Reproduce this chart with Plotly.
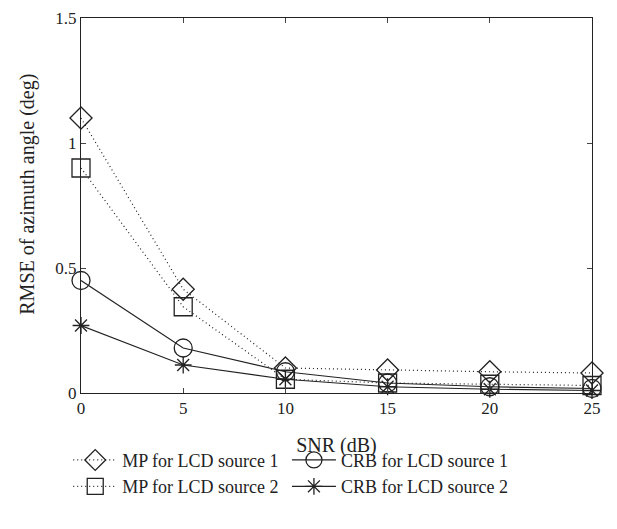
import plotly.graph_objects as go

snr = [0, 5, 10, 15, 20, 25]
mp_src1 = [1.10, 0.415, 0.10, 0.092, 0.085, 0.08]
mp_src2 = [0.90, 0.345, 0.055, 0.04, 0.035, 0.03]
crb_src1 = [0.45, 0.18, 0.085, 0.04, 0.025, 0.018]
crb_src2 = [0.27, 0.112, 0.055, 0.025, 0.015, 0.01]

x_ticks = [0, 5, 10, 15, 20, 25]
y_ticks = [0, 0.5, 1, 1.5]
y_tick_labels = ["0", "0.5", "1", "1.5"]

FONT = "'Liberation Serif', 'Times New Roman', 'DejaVu Serif', serif"
BLACK = "#222222"
DOT = "1px,3px"

fig = go.Figure()
fig.add_trace(go.Scatter(x=snr, y=mp_src1, name="MP for LCD source 1", mode="lines+markers",
                         line=dict(color=BLACK, width=1.2, dash=DOT),
                         marker=dict(symbol="diamond-open", size=17, color=BLACK, line=dict(width=1.3)),
                         cliponaxis=False, legend="legend"))
fig.add_trace(go.Scatter(x=snr, y=mp_src2, name="MP for LCD source 2", mode="lines+markers",
                         line=dict(color=BLACK, width=1.2, dash=DOT),
                         marker=dict(symbol="square-open", size=18, color=BLACK, line=dict(width=1.3)),
                         cliponaxis=False, legend="legend"))
fig.add_trace(go.Scatter(x=snr, y=crb_src1, name="CRB for LCD source 1", mode="lines+markers",
                         line=dict(color=BLACK, width=1.2),
                         marker=dict(symbol="circle-open", size=18, color=BLACK, line=dict(width=1.3)),
                         cliponaxis=False, legend="legend2"))
fig.add_trace(go.Scatter(x=snr, y=crb_src2, name="CRB for LCD source 2", mode="lines+markers",
                         line=dict(color=BLACK, width=1.2),
                         marker=dict(symbol="asterisk-open", size=14, color=BLACK, line=dict(width=1.3)),
                         cliponaxis=False, legend="legend2"))

legend_common = dict(orientation="v", y=-0.13, yanchor="top", xanchor="left",
                     itemwidth=44, tracegroupgap=0,
                     font=dict(family=FONT, size=18, color=BLACK),
                     bgcolor="rgba(0,0,0,0)")

fig.update_layout(
    width=617, height=529,
    margin=dict(l=73, r=33, t=10, b=144, autoexpand=False),
    paper_bgcolor="white", plot_bgcolor="white",
    font=dict(family=FONT, size=17, color=BLACK),
    showlegend=True,
    legend=dict(x=-0.025, **legend_common),
    legend2=dict(x=0.403, **legend_common),
    annotations=[dict(text="RMSE of azimuth angle (deg)", xref="paper", yref="paper",
                      x=-0.104, y=0.531, xanchor="center", yanchor="middle",
                      textangle=-90, showarrow=False,
                      font=dict(family=FONT, size=20, color=BLACK))],
)
fig.update_xaxes(range=[0, 25], tickvals=x_ticks, ticks="inside", ticklen=5,
                 showline=True, linecolor=BLACK, linewidth=1, mirror="ticks",
                 showgrid=False, zeroline=False,
                 title=dict(text="SNR (dB)", standoff=20, font=dict(family=FONT, size=20)),
                 tickfont=dict(family=FONT, size=17))
fig.update_yaxes(range=[0, 1.5], tickvals=y_ticks, ticktext=y_tick_labels, ticks="inside", ticklen=5,
                 showline=True, linecolor=BLACK, linewidth=1, mirror="ticks",
                 showgrid=False, zeroline=False,
                 tickfont=dict(family=FONT, size=17))

fig.write_html("out.html")
